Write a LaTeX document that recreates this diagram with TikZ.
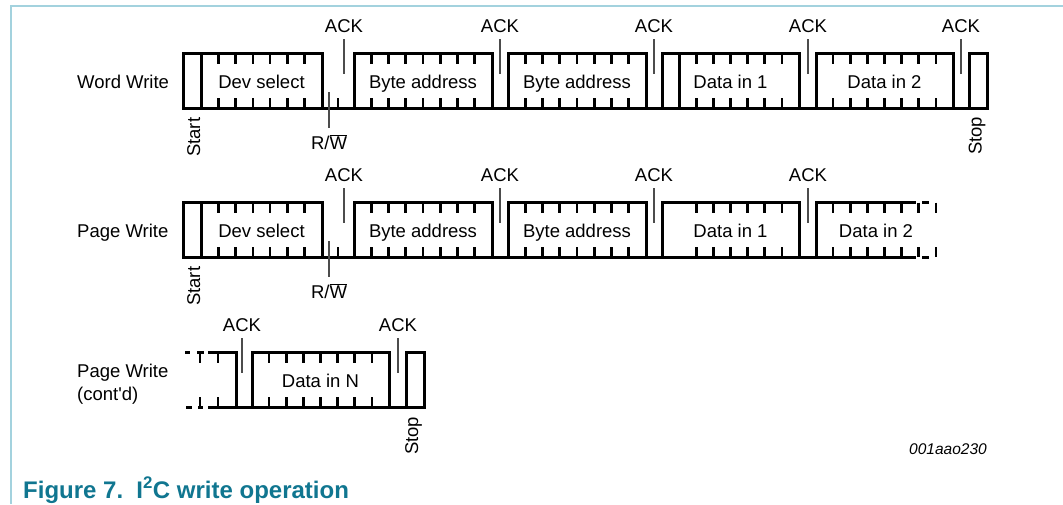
\documentclass[tikz,border=0pt]{standalone}
\usepackage{fontspec}
\setmainfont{Liberation Sans}
\definecolor{frameblue}{RGB}{163,210,222}
\definecolor{capteal}{RGB}{16,118,144}
\newcommand\bytebx[4]{%
  \draw[boxline] (#1,\rT) rectangle (#2,\rB);
  \pgfmathsetmacro\bw{(#2-#1)/#3}
  \pgfmathtruncatemacro\kend{#3-1}
  \foreach \k in {#4,...,\kend}{\draw[tickline] ({#1+\k*\bw},\rT) -- ++(0,10) ({#1+\k*\bw},\rB) -- ++(0,-10);}
}
\def\rT{53.5}
\def\rB{108}
\begin{document}
\begin{tikzpicture}[x=1pt,y=-1pt,
  boxline/.style={line width=3pt},
  tickline/.style={line width=2.6pt},
  ackline/.style={line width=1.2pt, draw=black!70},
  lbl/.style={font=\fontsize{18.5}{23}\selectfont, inner sep=0pt},
  vlbl/.style={lbl, rotate=90, anchor=base east},
  frameline/.style={line width=2pt, draw=frameblue}]
\useasboundingbox (0,0) rectangle (1063,504);
% frame
\draw[frameline] (1063,5.5) -- (10.7,5.5) -- (10.7,504);

% ---------- Row 1: Word Write ----------
\node[lbl, anchor=base west] (ww) at (77,88.3) {Word Write};
\draw[boxline] (183,\rB) -- (987,\rB);
\draw[boxline] (183,\rT) rectangle (201,\rB);
\bytebx{201}{322}{7}{1}
\draw[tickline] (338,\rB) -- ++(0,-10);
\bytebx{354}{492}{8}{1}
\bytebx{508}{646}{8}{1}
\bytebx{662}{799}{8}{2}
\draw[boxline] (679,\rT) -- (679,\rB);
\bytebx{816}{953}{8}{1}
\draw[boxline] (969,\rT) rectangle (987,\rB);
\node[lbl, anchor=base] (ds1) at (261.5,88.3) {Dev select};
\node[lbl, anchor=base] (ba11) at (423,88.3) {Byte address};
\node[lbl, anchor=base] (ba12) at (577,88.3) {Byte address};
\node[lbl, anchor=base] (di11) at (730.5,88.3) {Data in 1};
\node[lbl, anchor=base] (di12) at (884.5,88.3) {Data in 2};
\foreach \x/\n in {344/a11,500/a12,654/a13,808/a14,961/a15}{
  \node[lbl, anchor=base] (\n) at (\x,32.3) {ACK};
  \draw[ackline] (\x,39) -- (\x,74);
}
\draw[ackline] (329,92) -- (329,128);
\node[lbl, anchor=base] (rw1) at (329,149.3) {R/$\overline{\hbox{W}}$};
\node[vlbl] (st1) at (200,117.5) {Start};
\node[vlbl] (sp1) at (981.5,116.7) {Stop};

% ---------- Row 2: Page Write ----------
\begin{scope}[shift={(0,149)}]
\node[lbl, anchor=base west] (pw) at (77,88.3) {Page Write};
\draw[boxline] (183,\rB) -- (913,\rB);
\draw[boxline] (183,\rT) rectangle (201,\rB);
\bytebx{201}{322}{7}{1}
\draw[tickline] (338,\rB) -- ++(0,-10);
\bytebx{354}{492}{8}{1}
\bytebx{508}{646}{8}{1}
\bytebx{662}{799}{8}{2}
% Data in 2, open end
\draw[boxline] (913,\rT) -- (816,\rT) -- (816,\rB);
\foreach \k in {1,...,6}{\draw[tickline] ({816+\k*17.125},\rT) -- ++(0,10) ({816+\k*17.125},\rB) -- ++(0,-10);}
\draw[boxline] (913,\rT) -- (916,\rT) (922,\rT) -- (929,\rT);
\draw[boxline] (913,\rB) -- (916,\rB) (922,\rB) -- (929,\rB);
\draw[tickline] (936,\rT) -- ++(0,10) (936,\rB) -- ++(0,-10);
\node[lbl, anchor=base] (ds2) at (261.5,88.3) {Dev select};
\node[lbl, anchor=base] (ba21) at (423,88.3) {Byte address};
\node[lbl, anchor=base] (ba22) at (577,88.3) {Byte address};
\node[lbl, anchor=base] (di21) at (730.5,88.3) {Data in 1};
\node[lbl, anchor=base] (di22) at (876,88.3) {Data in 2};
\foreach \x/\n in {344/a21,500/a22,654/a23,808/a24}{
  \node[lbl, anchor=base] (\n) at (\x,32.3) {ACK};
  \draw[ackline] (\x,39) -- (\x,74);
}
\draw[ackline] (329,92) -- (329,128);
\node[lbl, anchor=base] (rw2) at (329,149.3) {R/$\overline{\hbox{W}}$};
\node[vlbl] (st2) at (200,117.5) {Start};
\end{scope}

% ---------- Row 3: Page Write (cont'd) ----------
\begin{scope}[shift={(0,299)}]
\node[lbl, anchor=base west, align=left] (pwc) at (77,101.3) {Page Write\\(cont\textquotesingle d)};
\draw[boxline] (185,\rT) -- (190,\rT) (197,\rT) -- (204,\rT);
\draw[boxline] (186,\rB) -- (192,\rB) (198,\rB) -- (203,\rB);
\draw[boxline] (208,\rT) -- (236,\rT) -- (236,\rB);
\draw[boxline] (208,\rB) -- (424,\rB);
\draw[tickline] (200,\rT) -- ++(0,10) (200,\rB) -- ++(0,-10);
\draw[tickline] (218,\rT) -- ++(0,10) (218,\rB) -- ++(0,-10);
\bytebx{252}{389}{8}{1}
\draw[boxline] (406,\rT) rectangle (424,\rB);
\node[lbl, anchor=base] (dn) at (320.5,88.3) {Data in N};
\foreach \x/\n in {242/a31,398/a32}{
  \node[lbl, anchor=base] (\n) at (\x,32.3) {ACK};
  \draw[ackline] (\x,39) -- (\x,74);
}
\node[vlbl] (sp3) at (418,117.7) {Stop};
\end{scope}

\node[anchor=base east, inner sep=0pt, font=\fontsize{15.5}{18}\selectfont\itshape] (code) at (987,454.5) {001aao230};
\node[anchor=base west, inner sep=0pt, text=capteal, font=\fontsize{24}{28}\selectfont\bfseries] (cap) at (23,498) {Figure 7.\hspace{0.55em}I\textsuperscript{2}C write operation};
\end{tikzpicture}
\end{document}
